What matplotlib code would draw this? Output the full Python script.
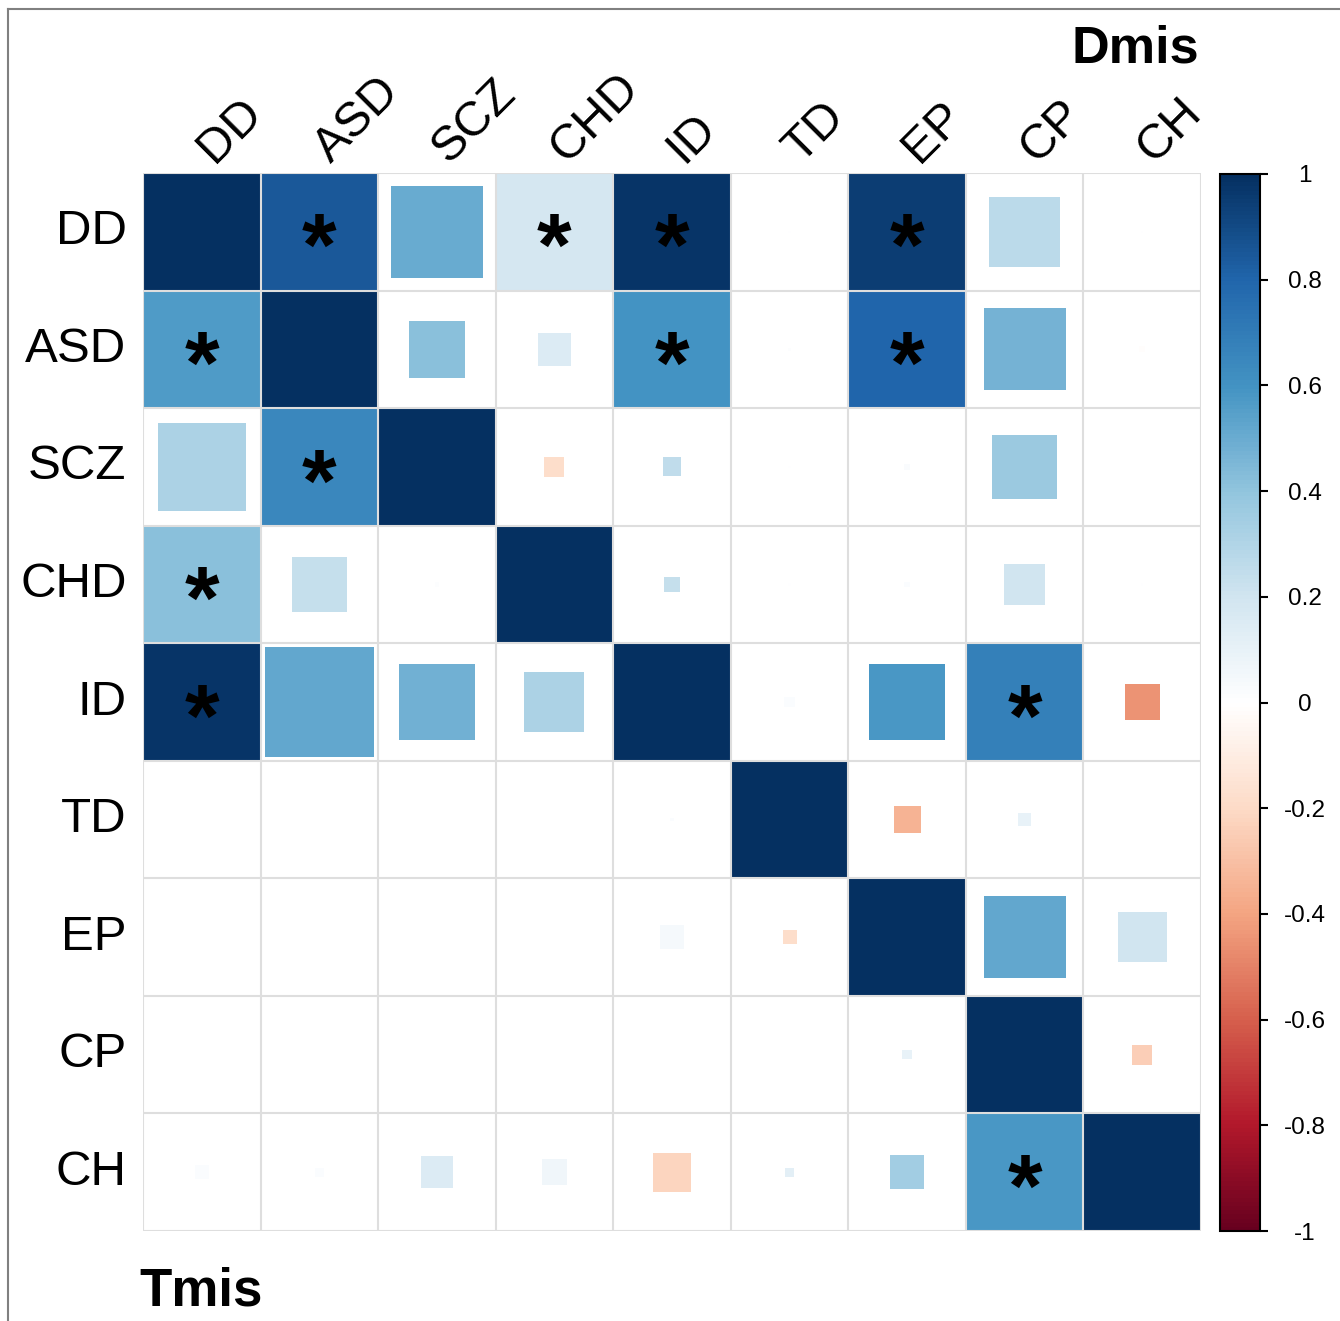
import numpy as np
import matplotlib
matplotlib.use("Agg")
import matplotlib.pyplot as plt
import matplotlib.patches as mpatches
from matplotlib.colors import LinearSegmentedColormap, Normalize
from matplotlib.cm import ScalarMappable
from matplotlib.lines import Line2D

plt.rcParams['font.family'] = ['Liberation Sans', 'DejaVu Sans']

labels = ["DD", "ASD", "SCZ", "CHD", "ID", "TD", "EP", "CP", "CH"]

# correlation (colour), rows = Tmis, columns = Dmis
corr = np.array([
    [1.00, 0.85, 0.50, 0.18, 0.98, 0.00, 0.95, 0.27, 0.00],
    [0.57, 1.00, 0.42, 0.15, 0.60, 0.01, 0.80, 0.47, -0.01],
    [0.32, 0.65, 1.00, -0.18, 0.25, 0.00, 0.03, 0.37, 0.00],
    [0.42, 0.24, 0.01, 1.00, 0.24, 0.00, 0.02, 0.20, 0.00],
    [0.98, 0.52, 0.48, 0.32, 1.00, 0.02, 0.58, 0.68, -0.45],
    [0.00, 0.00, 0.00, 0.00, 0.02, 1.00, -0.35, 0.10, 0.00],
    [0.00, 0.00, 0.00, 0.00, 0.04, -0.18, 1.00, 0.52, 0.20],
    [0.00, 0.00, 0.00, 0.00, 0.00, 0.00, 0.10, 1.00, -0.25],
    [0.02, 0.02, 0.15, 0.07, -0.22, 0.12, 0.35, 0.58, 1.00],
])

# magnitude shown by square side (fraction of a cell)
weight = np.array([
    [1.00, 1.00, 0.78, 1.00, 1.00, 0.02, 1.00, 0.60, 0.02],
    [1.00, 1.00, 0.48, 0.28, 1.00, 0.03, 1.00, 0.70, 0.05],
    [0.75, 1.00, 1.00, 0.17, 0.16, 0.02, 0.05, 0.55, 0.00],
    [1.00, 0.47, 0.04, 1.00, 0.13, 0.02, 0.05, 0.35, 0.02],
    [1.00, 0.93, 0.64, 0.51, 1.00, 0.09, 0.65, 1.00, 0.30],
    [0.00, 0.00, 0.00, 0.00, 0.03, 1.00, 0.23, 0.11, 0.00],
    [0.00, 0.00, 0.00, 0.00, 0.20, 0.12, 1.00, 0.70, 0.42],
    [0.00, 0.00, 0.00, 0.00, 0.00, 0.00, 0.08, 1.00, 0.17],
    [0.12, 0.08, 0.27, 0.22, 0.33, 0.08, 0.29, 1.00, 1.00],
])

# significant pairs (row, col)
sig = [(0, 1), (0, 3), (0, 4), (0, 6), (1, 0), (1, 4), (1, 6),
       (2, 1), (3, 0), (4, 0), (4, 7), (8, 7)]

cb_ticks = [1, 0.8, 0.6, 0.4, 0.2, 0, -0.2, -0.4, -0.6, -0.8, -1]

# corrplot RdBu palette
cmap = LinearSegmentedColormap.from_list("corrRdBu", [
    "#67001F", "#B2182B", "#D6604D", "#F4A582", "#FDDBC7", "#FFFFFF",
    "#D1E5F0", "#92C5DE", "#4393C3", "#2166AC", "#053061"])
norm = Normalize(-1, 1)

W, H = 1340, 1321
fig = plt.figure(figsize=(W / 100, H / 100), dpi=100)

ax = fig.add_axes([143 / W, (H - 1231) / H, 1058 / W, 1058 / H])
n = len(labels)
for i in range(n):
    for j in range(n):
        s = weight[i, j]
        if s <= 0:
            continue
        ax.add_patch(mpatches.Rectangle((j + 0.5 - s / 2, i + 0.5 - s / 2), s, s,
                                        facecolor=cmap(norm(corr[i, j])),
                                        edgecolor="none", zorder=1))

for k in range(n + 1):
    ax.axhline(k, color="#dedede", lw=1.5, zorder=2)
    ax.axvline(k, color="#dedede", lw=1.5, zorder=2)

for (i, j) in sig:
    ax.text(j + 0.5, i + 0.5 + 0.37, "*", fontsize=64, fontweight="bold",
            ha="center", va="baseline", color="black", zorder=3)

ax.set_xlim(0, n)
ax.set_ylim(n, 0)
ax.axis("off")

for j, lab in enumerate(labels):
    ax.text(j + 0.6, -0.08, lab, rotation=45, rotation_mode="anchor",
            ha="left", va="baseline", fontsize=35)
for i, lab in enumerate(labels):
    ax.text(-0.14, i + 0.5, lab, ha="right", va="center", fontsize=35.5)

fig.text(1135 / W, 1 - 49 / H, "Dmis", ha="center", va="center",
         fontsize=37.5, fontweight="bold")
fig.text(201 / W, 1 - 1292 / H, "Tmis", ha="center", va="center",
         fontsize=38, fontweight="bold")

# colour legend
cax = fig.add_axes([1220 / W, (H - 1231) / H, 40 / W, 1057 / H])
cb = fig.colorbar(ScalarMappable(norm=norm, cmap=cmap), cax=cax)
cb.set_ticks(cb_ticks)
cb.set_ticklabels([f"{t:g}" for t in cb_ticks])
cb.outline.set_linewidth(1.5)
cax.tick_params(length=6, width=1.5, pad=26, labelsize=17.5)
for t in cax.get_yticklabels():
    t.set_ha("center")

# outer frame (left and top edges visible)
fig.add_artist(Line2D([8 / W, 8 / W], [0, 1 - 9 / H], color="#808080", lw=1.5))
fig.add_artist(Line2D([8 / W, 1], [1 - 9 / H, 1 - 9 / H], color="#808080", lw=1.5))

fig.savefig("out.png", dpi=100)
